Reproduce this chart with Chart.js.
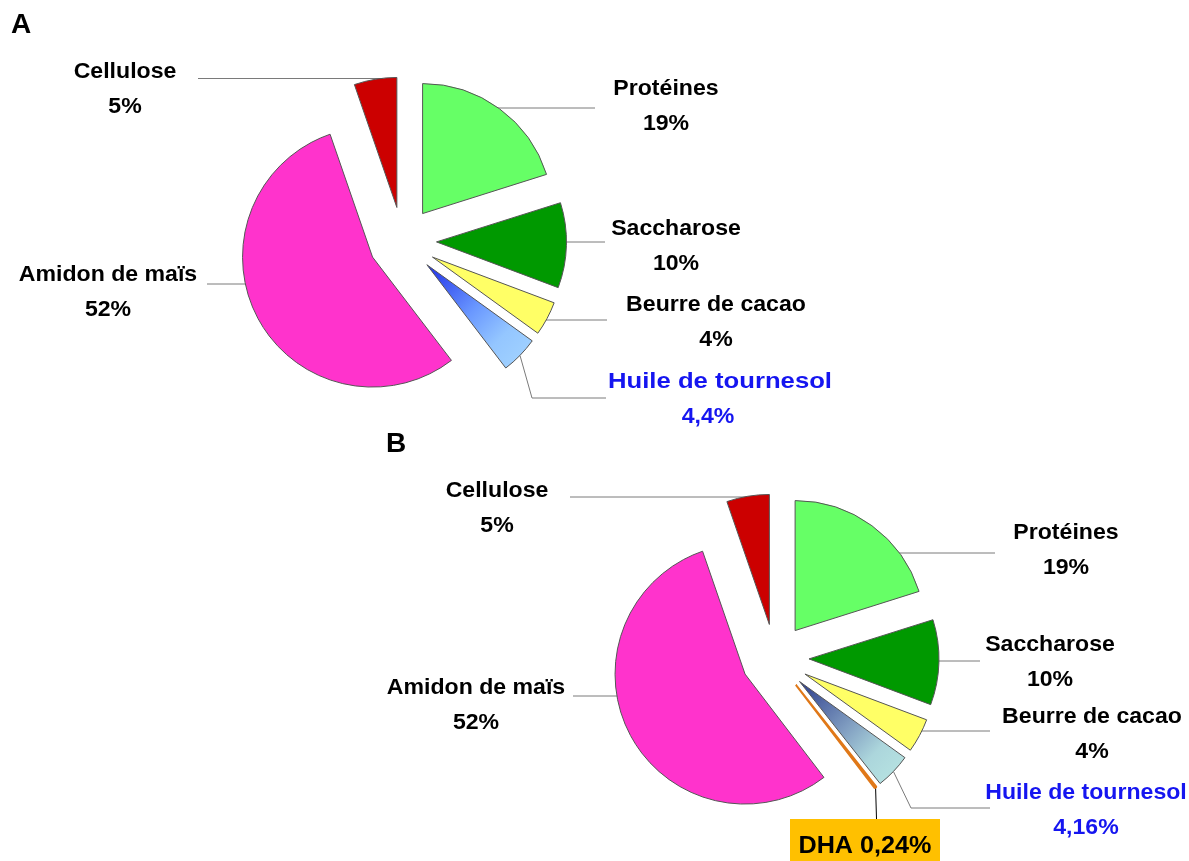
<!DOCTYPE html>
<html lang="fr">
<head>
<meta charset="utf-8">
<title>Composition des régimes A et B</title>
<script src="https://cdn.jsdelivr.net/npm/chart.js@4"></script>
<style>
  html, body { margin: 0; padding: 0; background: #fff; }
  #wrap { position: relative; width: 1189px; height: 861px; }
  #wrap canvas { position: absolute; left: 0; top: 0; }
</style>
</head>
<body>
<div id="wrap">
  <canvas id="pieA" width="1189" height="861"></canvas>
  <canvas id="pieB" width="1189" height="861"></canvas>
</div>
<script>
// Régime A
const categoriesA = ["Protéines", "Saccharose", "Beurre de cacao", "Huile de tournesol", "Amidon de maïs", "Cellulose"];
const valuesA = [19, 10, 4, 4.4, 52, 5];
const colorsA = ["#66ff66", "#009900", "#ffff66", "#99ccff", "#ff33cc", "#cc0000"];

// Régime B (une partie de l'huile remplacée par du DHA)
const categoriesB = ["Protéines", "Saccharose", "Beurre de cacao", "Huile de tournesol", "DHA", "Amidon de maïs", "Cellulose"];
const valuesB = [19, 10, 4, 4.16, 0.24, 52, 5];
const colorsB = ["#66ff66", "#009900", "#ffff66", "#b2dede", "#ff9933", "#ff33cc", "#cc0000"];
const bordersB = ["#555555", "#555555", "#555555", "#555555", "#e07818", "#555555", "#555555"];
const borderWidthsB = [1, 1, 1, 1, 2, 1, 1];

const FONT = '"Liberation Sans", Arial, sans-serif';
const GAP = 34;      // écartement des parts
const RADIUS = 130;
const STRETCH = 1.05;

function pct(v) {
  return String(v).replace(".", ",") + "%";
}

function sliceGeom(arc, gap) {
  const mid = (arc.startAngle + arc.endAngle) / 2;
  return {
    mid: mid,
    ax: arc.x + Math.cos(mid) * gap,
    ay: arc.y + Math.sin(mid) * gap,
    r: arc.outerRadius,
    start: arc.startAngle,
    end: arc.endAngle
  };
}

function insideSlice(g, x, y) {
  const dx = x - g.ax, dy = y - g.ay;
  if (Math.hypot(dx, dy) > g.r) return false;
  let a = Math.atan2(dy, dx);
  while (a < g.start) a += 2 * Math.PI;
  while (a > g.start + 2 * Math.PI) a -= 2 * Math.PI;
  return a <= g.end;
}

// texte centré, légèrement élargi (ou ajusté à une largeur donnée)
function drawText(ctx, text, x, y, width) {
  const w = ctx.measureText(text).width;
  const sx = width ? width / w : STRETCH;
  ctx.save();
  ctx.translate(x, y);
  ctx.scale(sx, 1);
  ctx.fillText(text, 0, 0);
  ctx.restore();
}

// dessine chaque part décalée le long de sa bissectrice
const explodePlugin = {
  id: "explode",
  beforeDatasetDraw(chart, args, opts) {
    const ctx = chart.ctx;
    const grads = opts.gradients || {};
    args.meta.data.forEach((arc, i) => {
      const g = sliceGeom(arc, opts.gap);
      ctx.save();
      ctx.translate(g.ax - arc.x, g.ay - arc.y);
      let saved = null;
      if (grads[i]) {
        const lg = ctx.createLinearGradient(arc.x, arc.y,
          arc.x + Math.cos(g.mid) * g.r, arc.y + Math.sin(g.mid) * g.r);
        grads[i].forEach(s => lg.addColorStop(s[0], s[1]));
        saved = arc.options;
        arc.options = Object.assign({}, saved, { backgroundColor: lg });
      }
      arc.draw(ctx);
      if (saved) arc.options = saved;
      ctx.restore();
    });
    return false;
  }
};

// étiquettes et traits de rappel
const labelPlugin = {
  id: "sliceLabels",
  beforeDatasetsDraw(chart, args, opts) {
    const ctx = chart.ctx;
    const meta = chart.getDatasetMeta(0);
    opts.items.forEach(item => {
      const g = sliceGeom(meta.data[item.i], opts.gap);
      const pts = item.lead.map(p => [p[0], p[1]]);
      const last = pts[pts.length - 1];
      if (item.mode === "h") {
        const dir = Math.sign(g.ax - last[0]);
        let x = last[0];
        while (Math.abs(x - g.ax) > 0.5 && !insideSlice(g, x, last[1])) x += dir * 0.5;
        pts.push([x + dir * 2, last[1]]);
      } else {
        pts.push([g.ax + Math.cos(g.mid) * g.r, g.ay + Math.sin(g.mid) * g.r]);
      }
      ctx.save();
      ctx.strokeStyle = item.lineColor || "#7a7a7a";
      ctx.lineWidth = 1;
      ctx.beginPath();
      pts.forEach((p, k) => k ? ctx.lineTo(p[0], p[1]) : ctx.moveTo(p[0], p[1]));
      ctx.stroke();
      ctx.restore();
    });
  },
  afterDraw(chart, args, opts) {
    const ctx = chart.ctx;
    const labels = chart.data.labels;
    const values = chart.data.datasets[0].data;
    ctx.save();
    ctx.textAlign = "center";
    ctx.textBaseline = "alphabetic";
    ctx.fillStyle = "#000";
    ctx.font = "bold 28px " + FONT;
    ctx.fillText(opts.panel.text, opts.panel.x, opts.panel.y);
    opts.items.forEach(item => {
      if (item.box) {
        const b = item.box;
        ctx.fillStyle = "#ffc000";
        ctx.fillRect(b.x, b.y, b.w, b.h);
        ctx.fillStyle = "#000";
        ctx.font = "bold 24px " + FONT;
        drawText(ctx, labels[item.i] + " " + pct(values[item.i]), b.x + b.w / 2, b.y + 34, 0);
        return;
      }
      ctx.fillStyle = item.color || "#000";
      ctx.font = "bold 22px " + FONT;
      drawText(ctx, labels[item.i], item.x, item.y, item.w);
      drawText(ctx, pct(values[item.i]), item.x2 || item.x, item.y + 35, 0);
    });
    ctx.restore();
  }
};

const labelsA = [
  { i: 0, x: 666, y: 95, lead: [[595, 108]], mode: "h" },
  { i: 1, x: 676, y: 235, lead: [[605, 242]], mode: "h" },
  { i: 2, x: 716, y: 311, lead: [[607, 320]], mode: "h" },
  { i: 3, x: 720, x2: 708, w: 224, y: 388, lead: [[606, 398], [532, 398]], mode: "r", color: "#1515f0" },
  { i: 4, x: 108, y: 281, lead: [[207, 284]], mode: "h" },
  { i: 5, x: 125, y: 78, lead: [[198, 78.5]], mode: "h" }
];

const labelsB = [
  { i: 0, x: 1066, y: 539, lead: [[995, 553]], mode: "h" },
  { i: 1, x: 1050, y: 651, lead: [[980, 661]], mode: "h" },
  { i: 2, x: 1092, y: 723, lead: [[990, 731]], mode: "h" },
  { i: 3, x: 1086, y: 799, lead: [[990, 808], [911, 808]], mode: "r", color: "#1515f0" },
  { i: 4, box: { x: 790, y: 819, w: 150, h: 42 }, lead: [[876.5, 819]], mode: "r", lineColor: "#000" },
  { i: 5, x: 476, y: 694, lead: [[573, 696]], mode: "h" },
  { i: 6, x: 497, y: 497, lead: [[570, 497]], mode: "h" }
];

function makePie(id, labels, values, colors, borders, widths, center, gradients, items, panel) {
  const canvas = document.getElementById(id);
  const W = canvas.width, H = canvas.height;
  const half = 150;
  return new Chart(canvas.getContext("2d"), {
    type: "pie",
    data: {
      labels: labels,
      datasets: [{
        data: values,
        backgroundColor: colors,
        borderColor: borders,
        borderWidth: widths,
        radius: RADIUS
      }]
    },
    options: {
      responsive: false,
      animation: false,
      events: [],
      layout: {
        padding: {
          left: center[0] - half,
          right: W - center[0] - half,
          top: center[1] - half,
          bottom: H - center[1] - half
        }
      },
      plugins: {
        legend: { display: false },
        tooltip: { enabled: false },
        explode: { gap: GAP, gradients: gradients },
        sliceLabels: { gap: GAP, items: items, panel: panel }
      }
    },
    plugins: [explodePlugin, labelPlugin]
  });
}

makePie("pieA", categoriesA, valuesA, colorsA, "#555555", 1, [402.5, 241],
  { 3: [[0, "#1f2fe8"], [0.5, "#6a98ff"], [0.8, "#94c6ff"], [1, "#9ecfff"]] },
  labelsA, { text: "A", x: 21, y: 33 });

makePie("pieB", categoriesB, valuesB, colorsB, bordersB, borderWidthsB, [775, 658],
  { 3: [[0, "#2c3c8c"], [0.5, "#7f9cc0"], [0.8, "#acd6dc"], [1, "#b4e0e0"]] },
  labelsB, { text: "B", x: 396, y: 452 });
</script>
</body>
</html>
